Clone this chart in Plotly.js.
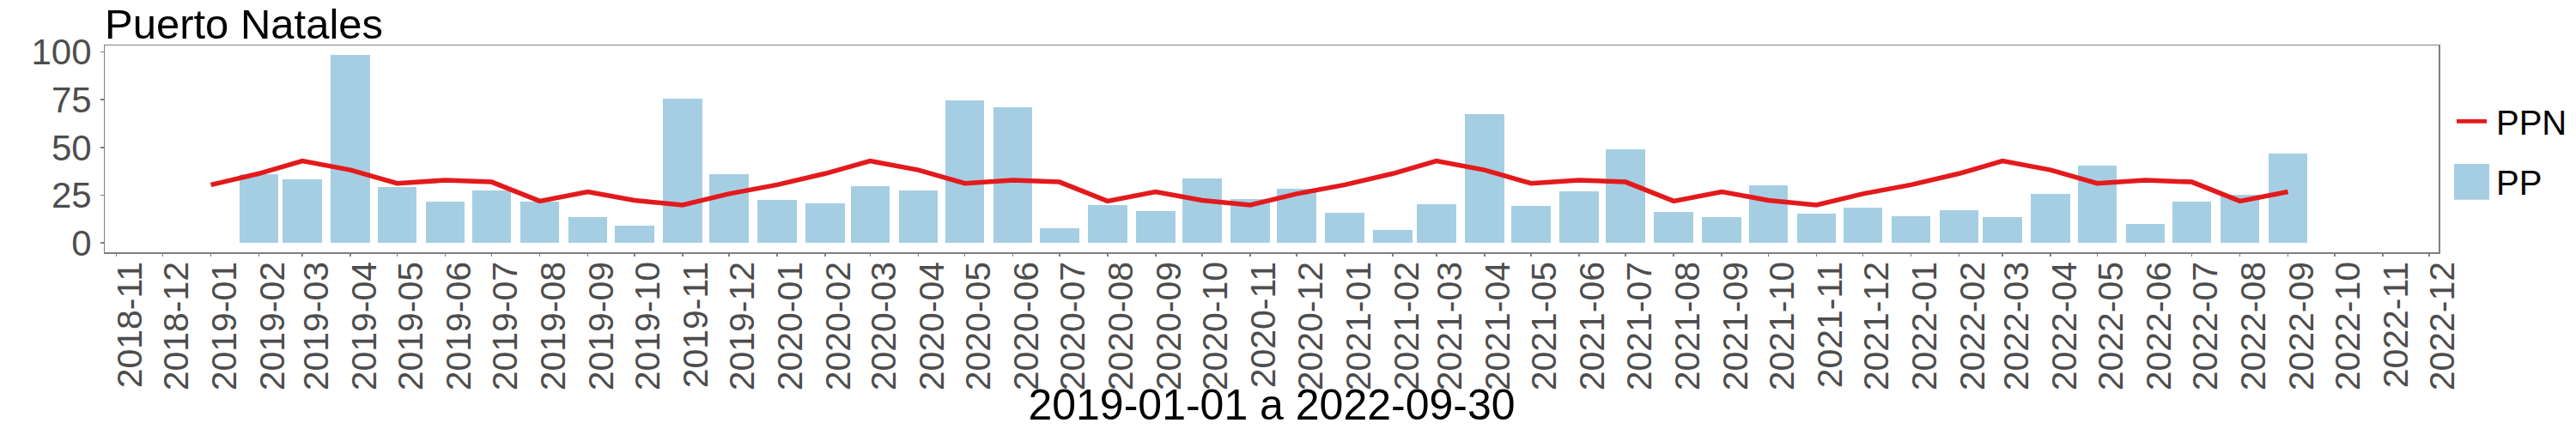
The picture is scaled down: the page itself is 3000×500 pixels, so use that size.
<!DOCTYPE html>
<html>
<head>
<meta charset="utf-8">
<script src="https://cdn.plot.ly/plotly-3.0.1.min.js"></script>
<style>html,body{margin:0;padding:0;background:#fff;}</style>
</head>
<body>
<div id="chart" style="width:3000px;height:500px;"></div>
<script>
// ---- data ----
const ppFechas = [
  "2019-02-01","2019-03-01","2019-04-01","2019-05-01","2019-06-01","2019-07-01","2019-08-01","2019-09-01","2019-10-01","2019-11-01","2019-12-01",
  "2020-01-01","2020-02-01","2020-03-01","2020-04-01","2020-05-01","2020-06-01","2020-07-01","2020-08-01","2020-09-01","2020-10-01","2020-11-01","2020-12-01",
  "2021-01-01","2021-02-01","2021-03-01","2021-04-01","2021-05-01","2021-06-01","2021-07-01","2021-08-01","2021-09-01","2021-10-01","2021-11-01","2021-12-01",
  "2022-01-01","2022-02-01","2022-03-01","2022-04-01","2022-05-01","2022-06-01","2022-07-01","2022-08-01","2022-09-01"
];
const ppValores = [
  36.0, 33.3, 98.5, 29.2, 21.6, 27.4, 21.6, 13.5, 9.0, 75.6, 36.0,
  22.5, 20.7, 29.7, 27.4, 74.7, 71.1, 7.6, 19.8, 16.6, 33.7, 22.9, 28.3,
  15.7, 6.7, 20.2, 67.5, 19.3, 27.0, 49.0, 16.2, 13.5, 30.1, 15.3, 18.4,
  13.9, 17.1, 13.5, 25.6, 40.5, 9.9, 21.6, 25.2, 46.8
];
const ppnFechas = [
  "2019-01-01","2019-02-01","2019-03-01","2019-04-01","2019-05-01","2019-06-01","2019-07-01","2019-08-01","2019-09-01","2019-10-01","2019-11-01","2019-12-01",
  "2020-01-01","2020-02-01","2020-03-01","2020-04-01","2020-05-01","2020-06-01","2020-07-01","2020-08-01","2020-09-01","2020-10-01","2020-11-01","2020-12-01",
  "2021-01-01","2021-02-01","2021-03-01","2021-04-01","2021-05-01","2021-06-01","2021-07-01","2021-08-01","2021-09-01","2021-10-01","2021-11-01","2021-12-01",
  "2022-01-01","2022-02-01","2022-03-01","2022-04-01","2022-05-01","2022-06-01","2022-07-01","2022-08-01","2022-09-01"
];
const ppnValores = [
  30.4, 36.3, 42.9, 38.2, 31.2, 32.8, 31.9, 21.9, 26.8, 22.3, 19.8, 25.7,
  30.4, 36.3, 42.9, 38.2, 31.2, 32.8, 31.9, 21.9, 26.8, 22.3, 19.8, 25.7,
  30.4, 36.3, 42.9, 38.2, 31.2, 32.8, 31.9, 21.9, 26.8, 22.3, 19.8, 25.7,
  30.4, 36.3, 42.9, 38.2, 31.2, 32.8, 31.9, 21.9, 26.8
];
const yTicks = [0, 25, 50, 75, 100];
const titulo = "Puerto Natales";
const tituloX = "2019-01-01 a 2022-09-30";
const serieNombres = ["PP", "PPN"];

// ---- styles ----
const FONT = "Liberation Sans, Arial, sans-serif";
const colorPP = "#A6CEE3";
const colorPPN = "#E31A1C";
const DAY = 86400000;

const traces = [
  {
    type: "bar", name: serieNombres[0], x: ppFechas, y: ppValores,
    width: ppFechas.map(() => 25.2 * DAY),
    marker: {color: colorPP, line: {width: 0}},
    showlegend: false, hoverinfo: "x+y"
  },
  {
    type: "scatter", mode: "lines", name: serieNombres[1], x: ppnFechas, y: ppnValores,
    line: {color: colorPPN, width: 5.5},
    showlegend: false
  }
];

const L = 122, R = 2840, T = 53, B = 294;
const W = R - L, H = B - T;
const px = v => (v - L) / W;
const py = v => (B - v) / H;

const layout = {
  width: 3000, height: 500,
  margin: {l: L, r: 3000 - R, t: T, b: 500 - B, pad: 0},
  paper_bgcolor: "#ffffff", plot_bgcolor: "#ffffff",
  font: {family: FONT, color: "#000"},
  bargap: 0,
  title: {
    text: titulo, font: {family: FONT, size: 49, color: "#000"},
    xref: "paper", x: 0, xanchor: "left",
    yref: "container", y: 1 - 27.8 / 500, yanchor: "middle"
  },
  xaxis: {
    type: "date",
    range: ["2018-10-24 14:00", "2022-12-07 02:00"],
    tick0: "2018-11-01", dtick: "M1", tickformat: "%Y-%m",
    tickangle: -90, ticklabelshift: 16, ticklabelstandoff: -10,
    tickfont: {family: FONT, size: 41, color: "#4D4D4D"},
    ticks: "outside", ticklen: 3, tickwidth: 1.5, tickcolor: "#7F7F7F",
    showline: true, linecolor: "#7F7F7F", linewidth: 1.5, mirror: true,
    showgrid: false, zeroline: false, automargin: false,
    title: {text: tituloX, font: {family: FONT, size: 50, color: "#000"}, standoff: 12}
  },
  yaxis: {
    range: [-4.925, 103.425],
    tickvals: yTicks, ticktext: yTicks.map(String),
    tickfont: {family: FONT, size: 42, color: "#4D4D4D"},
    ticks: "outside", ticklen: 3.5, tickwidth: 1.5, tickcolor: "#7F7F7F",
    ticklabelstandoff: 2,
    showline: true, linecolor: "#7F7F7F", linewidth: 1.5, mirror: true,
    showgrid: false, zeroline: false, automargin: false
  },
  shapes: [
    {type: "line", xref: "paper", yref: "paper", x0: px(2861), x1: px(2896), y0: py(141.3), y1: py(141.3),
     line: {color: colorPPN, width: 4.7}},
    {type: "rect", xref: "paper", yref: "paper", x0: px(2858), x1: px(2899), y0: py(232.7), y1: py(191),
     fillcolor: colorPP, line: {width: 0}}
  ],
  annotations: [
    {text: serieNombres[1], xref: "paper", yref: "paper", x: px(2905), y: py(142.5), xanchor: "left", yanchor: "middle",
     showarrow: false, font: {family: FONT, size: 40, color: "#000"}},
    {text: serieNombres[0], xref: "paper", yref: "paper", x: px(2905), y: py(213), xanchor: "left", yanchor: "middle",
     showarrow: false, font: {family: FONT, size: 40, color: "#000"}}
  ]
};

Plotly.newPlot("chart", traces, layout, {displayModeBar: false, staticPlot: true});
</script>
</body>
</html>
